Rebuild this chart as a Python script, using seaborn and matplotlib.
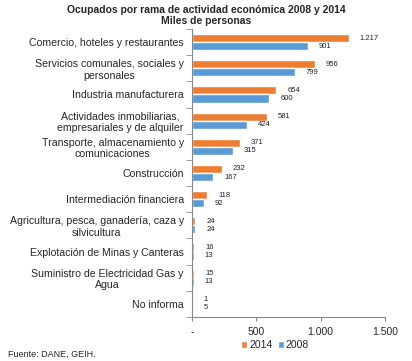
import seaborn as sns
import numpy as np
import pandas as pd
import matplotlib.pyplot as plt
from matplotlib.ticker import FixedLocator

categorias = [
    "Comercio, hoteles y restaurantes",
    "Servicios comunales, sociales y\npersonales",
    "Industria manufacturera",
    "Actividades inmobiliarias,\nempresariales y de alquiler",
    "Transporte, almacenamiento y\ncomunicaciones",
    "Construcción",
    "Intermediación financiera",
    "Agricultura, pesca, ganadería, caza y\nsilvicultura",
    "Explotación de Minas y Canteras",
    "Suministro de Electricidad Gas y\nAgua",
    "No informa",
]
valores_2014 = [1217, 956, 654, 581, 371, 232, 118, 24, 16, 15, 1]
valores_2008 = [901, 799, 600, 424, 315, 167, 92, 24, 13, 13, 5]
anios = ["2014", "2008"]
colores = ["#ED7D31", "#5B9BD5"]
xticks = [0, 500, 1000, 1500]
xtick_labels = ["-", "500", "1.000", "1.500"]

df = pd.DataFrame({
    "rama": categorias * 2,
    "valor": valores_2014 + valores_2008,
    "anio": [anios[0]] * len(categorias) + [anios[1]] * len(categorias),
})

sns.set_style("white")
plt.rcParams["font.family"] = ["Liberation Sans", "DejaVu Sans"]

fig = plt.figure(figsize=(4.12, 3.61), dpi=100)
ax = fig.add_axes([192 / 412, 1 - 317 / 361, 193 / 412, 288 / 361])

sns.barplot(data=df, x="valor", y="rama", hue="anio", hue_order=anios,
            order=categorias, palette=colores, orient="h", width=0.62,
            saturation=1, ax=ax, legend=True)

# etiquetas de datos
for cont in ax.containers:
    for rect in cont:
        w = rect.get_width()
        ax.annotate(f"{int(w):,}".replace(",", "."),
                    (w, rect.get_y() + rect.get_height() / 2),
                    xytext=(8, 0), textcoords="offset points",
                    ha="left", va="center", fontsize=5.5, color="#222222")

ax.set_xlim(0, 1500)
ax.set_ylim(len(categorias) - 0.5, -0.5)
ax.set_xticks(xticks)
ax.set_xticklabels(xtick_labels, fontsize=7.5)
ax.tick_params(axis="y", labelsize=7.6, length=0, pad=6)
ax.tick_params(axis="x", length=3, color="#888888", pad=4, direction="out",
               bottom=True)
ax.yaxis.set_minor_locator(FixedLocator(np.arange(-0.5, len(categorias), 1)))
ax.tick_params(axis="y", which="minor", length=4, color="#888888",
               direction="out", left=True)
for lbl in ax.get_yticklabels():
    lbl.set_multialignment("center")
ax.set_xlabel("")
ax.set_ylabel("")
for s in ["top", "right"]:
    ax.spines[s].set_visible(False)
for s in ["left", "bottom"]:
    ax.spines[s].set_color("#888888")
    ax.spines[s].set_linewidth(0.8)

ax.legend(loc="center", bbox_to_anchor=(0.43, -0.097), ncol=2, frameon=False,
          fontsize=7.5, handlelength=0.6, handleheight=0.6,
          handletextpad=0.2, columnspacing=0.5, title=None)

fig.text(0.5, 0.985, "Ocupados por rama de actividad económica 2008 y 2014\nMiles de personas",
         ha="center", va="top", fontsize=7.5, fontweight="bold", linespacing=1.1)
fig.text(0.02, 0.005, "Fuente: DANE, GEIH.", ha="left", va="bottom", fontsize=6.5)

fig.savefig("out.png", dpi=100)
